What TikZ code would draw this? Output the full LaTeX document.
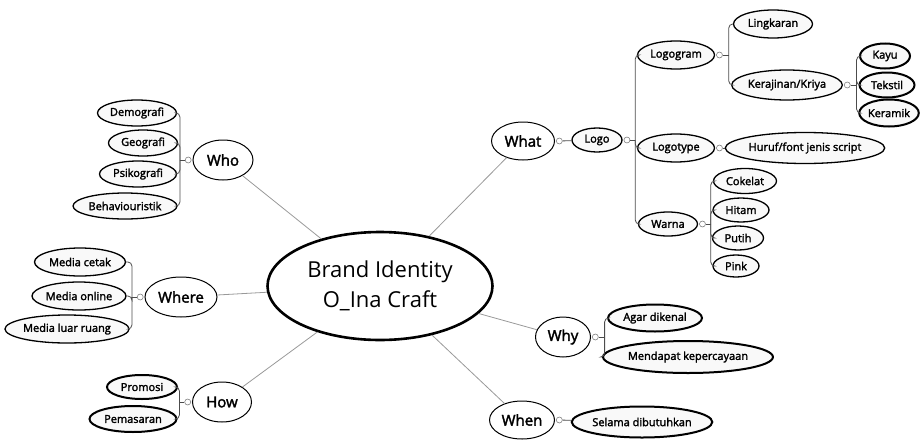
\documentclass[tikz,border=0pt]{standalone}
\usepackage{fontspec}
\setmainfont{Open Sans}
\newfontfamily\mapfont{Open Sans}[FakeBold=2.2]
\usetikzlibrary{shapes.geometric,positioning}
\tikzset{
  topic/.style={ellipse, draw, line width=1pt, fill=white, inner sep=0pt, minimum height=40pt, minimum width=#1, font=\mapfont\fontsize{15}{18}\selectfont},
  leaf/.style={ellipse, draw, line width=1.3pt, fill=gray!5, inner sep=0pt, minimum height=26pt, minimum width=#1, font=\mapfont\fontsize{11}{13}\selectfont},
  heavy/.style={line width=2pt},
  knob/.style={circle, draw=gray, fill=white, line width=0.6pt, inner sep=0pt, minimum size=6pt},
  spoke/.style={draw=gray!80, line width=0.8pt},
  brace/.style={draw=black!70, line width=0.8pt, rounded corners=4pt}
}
\begin{document}
\begin{tikzpicture}[x=1pt,y=-1pt]
\useasboundingbox (0,0) rectangle (920,439);
\node[ellipse, draw, line width=2.6pt, minimum width=225pt, minimum height=108pt, align=center, font=\fontsize{22}{30}\selectfont] (brand) at (380,286) {Brand Identity\\O\_Ina Craft};

\node[topic=60pt] (who) at (223,160) {Who};
\node[topic=72pt] (where) at (181,297) {Where};
\node[topic=59pt] (how) at (222,402) {How};
\node[topic=63pt, minimum height=38pt] (what) at (523,141) {What};
\node[topic=55pt] (why) at (563,337) {Why};
\node[topic=65pt, minimum height=38pt] (when) at (522,420) {When};
\foreach \t in {who,where,how,what,why,when} \draw[spoke] (brand) -- (\t);

\node[leaf=79pt] (demo) at (137,113) {Demografi};
\node[leaf=69pt] (geo) at (143,143) {Geografi};
\node[leaf=77pt] (psiko) at (138,174) {Psikografi};
\node[leaf=104pt] (behav) at (125,206) {Behaviouristik};
\node[knob, left=1pt of who] (kwho) {};
\coordinate[left=5pt of kwho] (jwho);
\draw[brace] (kwho) -- (jwho);
\foreach \c in {demo,geo,psiko,behav} \draw[brace] (jwho) |- (\c.east);

\node[leaf=91pt, minimum height=28pt] (mcetak) at (80,262) {Media cetak};
\node[leaf=94pt, minimum height=28pt] (monline) at (79,296) {Media online};
\node[leaf=118pt, minimum height=28pt] (mluar) at (67,329) {Media luar ruang};
\node[knob, left=1pt of where] (kwhere) {};
\coordinate[left=5pt of kwhere] (jwhere);
\draw[brace] (kwhere) -- (jwhere);
\foreach \c in {mcetak,monline,mluar} \draw[brace] (jwhere) |- (\c.east);

\node[leaf=70pt, heavy, minimum height=24pt] (promosi) at (142,387) {Promosi};
\node[leaf=87pt, heavy] (pemasaran) at (133,419) {Pemasaran};
\node[knob, left=1pt of how] (khow) {};
\coordinate[left=5pt of khow] (jhow);
\draw[brace] (khow) -- (jhow);
\foreach \c in {promosi,pemasaran} \draw[brace] (jhow) |- (\c.east);

\node[leaf=50pt, minimum height=24pt] (logo) at (597,140) {Logo};
\node[knob, right=1pt of what] (kwhat) {};
\draw[brace] (kwhat) -- (logo);

\node[leaf=77pt, minimum height=28pt] (logogram) at (676,55) {Logogram};
\node[leaf=77pt, minimum height=28pt] (logotype) at (676,148) {Logotype};
\node[leaf=59pt, minimum height=24pt] (warna) at (668,224) {Warna};
\node[knob, right=1pt of logo] (klogo) {};
\coordinate[right=5pt of klogo] (jlogo);
\draw[brace] (klogo) -- (jlogo);
\foreach \c in {logogram,logotype,warna} \draw[brace] (jlogo) |- (\c.west);

\node[leaf=79pt, minimum height=28pt] (lingkaran) at (773,24) {Lingkaran};
\node[leaf=110pt, minimum height=30pt] (kriya) at (787,85) {Kerajinan/Kriya};
\node[knob, right=1pt of logogram] (klogogram) {};
\coordinate[right=6pt of klogogram] (jlogogram);
\draw[brace] (klogogram) -- (jlogogram);
\foreach \c in {lingkaran,kriya} \draw[brace] (jlogogram) |- (\c.west);

\node[leaf=50pt, heavy, minimum height=25pt] (kayu) at (885,56) {Kayu};
\node[leaf=55pt, heavy, minimum height=25pt] (tekstil) at (887,85) {Tekstil};
\node[leaf=58pt, heavy, minimum height=27pt] (keramik) at (889,113) {Keramik};
\node[knob, right=1pt of kriya] (kkriya) {};
\coordinate[right=6pt of kkriya] (jkriya);
\draw[brace] (kkriya) -- (jkriya);
\foreach \c in {kayu,tekstil,keramik} \draw[brace] (jkriya) |- (\c.west);

\node[leaf=146pt, minimum height=31pt] (huruf) at (805,148) {Huruf/font jenis script};
\node[knob, right=1pt of logotype] (klogotype) {};
\draw[brace] (klogotype) -- (huruf);

\node[leaf=63pt, minimum height=25pt] (cokelat) at (745,181) {Cokelat};
\node[leaf=56pt, minimum height=24pt] (hitam) at (741,210) {Hitam};
\node[leaf=51pt, minimum height=24pt] (putih) at (738,238) {Putih};
\node[leaf=46pt, minimum height=22pt] (pink) at (736,266) {Pink};
\node[knob, right=1pt of warna] (kwarna) {};
\coordinate[right=5pt of kwarna] (jwarna);
\draw[brace] (kwarna) -- (jwarna);
\foreach \c in {cokelat,hitam,putih,pink} \draw[brace] (jwarna) |- (\c.west);

\node[leaf=94pt, heavy, minimum height=27pt] (agar) at (655,318) {Agar dikenal};
\node[leaf=159pt, heavy, minimum height=32pt] (mendapat) at (688,357) {Mendapat kepercayaan};
\node[knob, right=1pt of why] (kwhy) {};
\coordinate[right=6pt of kwhy] (jwhy);
\draw[brace] (kwhy) -- (jwhy);
\foreach \c in {agar,mendapat} \draw[brace] (jwhy) |- (\c.west);

\node[leaf=130pt, heavy, minimum height=31pt] (selama) at (642,422) {Selama dibutuhkan};
\node[knob, right=1pt of when] (kwhen) {};
\draw[brace] (kwhen) -- (selama);
\end{tikzpicture}
\end{document}
